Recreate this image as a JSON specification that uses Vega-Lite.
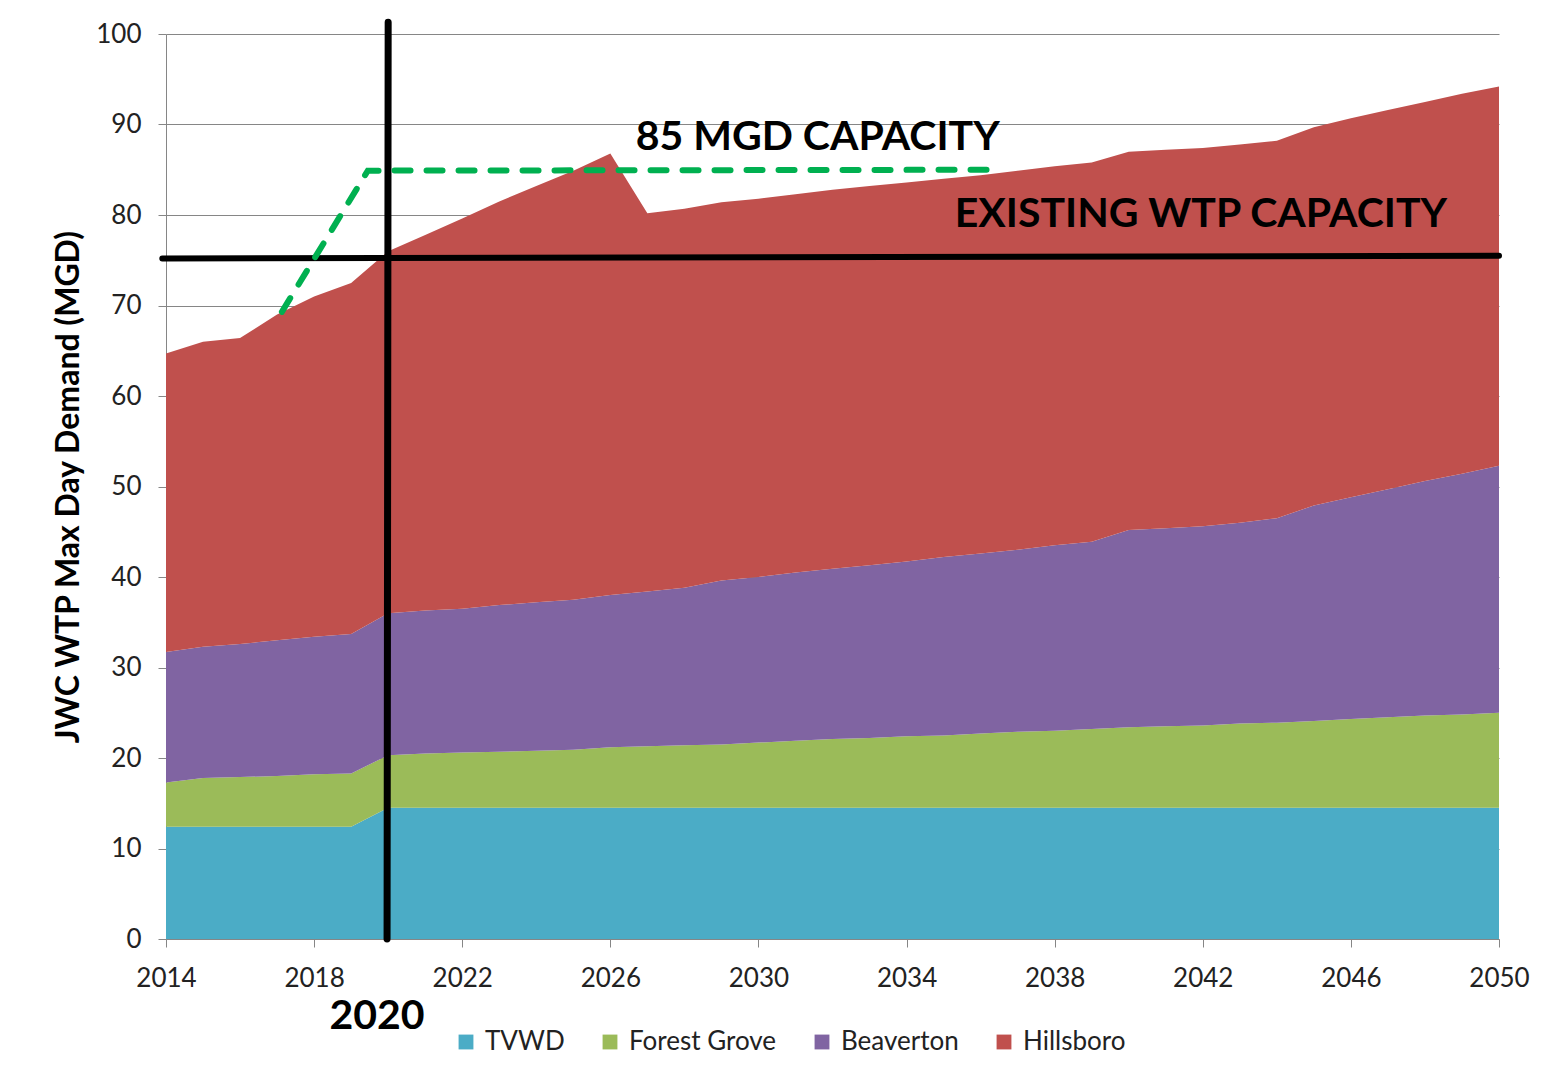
{
  "$schema": "https://vega.github.io/schema/vega-lite/v6.json",
  "width": 1333,
  "height": 905,
  "autosize": "none",
  "padding": {"left": 166, "top": 34, "right": 64, "bottom": 150},
  "background": "white",
  "config": {"view": {"stroke": null}, "font": "Lato"},
  "datasets": {
    "demand": [
      {"year":2014,"series":"TVWD","mgd":12.4,"rank":1},{"year":2015,"series":"TVWD","mgd":12.4,"rank":1},{"year":2016,"series":"TVWD","mgd":12.4,"rank":1},{"year":2017,"series":"TVWD","mgd":12.4,"rank":1},{"year":2018,"series":"TVWD","mgd":12.4,"rank":1},{"year":2019,"series":"TVWD","mgd":12.4,"rank":1},{"year":2020,"series":"TVWD","mgd":14.5,"rank":1},{"year":2021,"series":"TVWD","mgd":14.5,"rank":1},{"year":2022,"series":"TVWD","mgd":14.5,"rank":1},{"year":2023,"series":"TVWD","mgd":14.5,"rank":1},{"year":2024,"series":"TVWD","mgd":14.5,"rank":1},{"year":2025,"series":"TVWD","mgd":14.5,"rank":1},{"year":2026,"series":"TVWD","mgd":14.5,"rank":1},{"year":2027,"series":"TVWD","mgd":14.5,"rank":1},{"year":2028,"series":"TVWD","mgd":14.5,"rank":1},{"year":2029,"series":"TVWD","mgd":14.5,"rank":1},{"year":2030,"series":"TVWD","mgd":14.5,"rank":1},{"year":2031,"series":"TVWD","mgd":14.5,"rank":1},{"year":2032,"series":"TVWD","mgd":14.5,"rank":1},{"year":2033,"series":"TVWD","mgd":14.5,"rank":1},{"year":2034,"series":"TVWD","mgd":14.5,"rank":1},{"year":2035,"series":"TVWD","mgd":14.5,"rank":1},{"year":2036,"series":"TVWD","mgd":14.5,"rank":1},{"year":2037,"series":"TVWD","mgd":14.5,"rank":1},{"year":2038,"series":"TVWD","mgd":14.5,"rank":1},{"year":2039,"series":"TVWD","mgd":14.5,"rank":1},{"year":2040,"series":"TVWD","mgd":14.5,"rank":1},{"year":2041,"series":"TVWD","mgd":14.5,"rank":1},{"year":2042,"series":"TVWD","mgd":14.5,"rank":1},{"year":2043,"series":"TVWD","mgd":14.5,"rank":1},{"year":2044,"series":"TVWD","mgd":14.5,"rank":1},{"year":2045,"series":"TVWD","mgd":14.5,"rank":1},{"year":2046,"series":"TVWD","mgd":14.5,"rank":1},{"year":2047,"series":"TVWD","mgd":14.5,"rank":1},{"year":2048,"series":"TVWD","mgd":14.5,"rank":1},{"year":2049,"series":"TVWD","mgd":14.5,"rank":1},{"year":2050,"series":"TVWD","mgd":14.5,"rank":1},
      {"year":2014,"series":"Forest Grove","mgd":4.9,"rank":2},{"year":2015,"series":"Forest Grove","mgd":5.4,"rank":2},{"year":2016,"series":"Forest Grove","mgd":5.5,"rank":2},{"year":2017,"series":"Forest Grove","mgd":5.6,"rank":2},{"year":2018,"series":"Forest Grove","mgd":5.8,"rank":2},{"year":2019,"series":"Forest Grove","mgd":5.9,"rank":2},{"year":2020,"series":"Forest Grove","mgd":5.8,"rank":2},{"year":2021,"series":"Forest Grove","mgd":6.0,"rank":2},{"year":2022,"series":"Forest Grove","mgd":6.1,"rank":2},{"year":2023,"series":"Forest Grove","mgd":6.2,"rank":2},{"year":2024,"series":"Forest Grove","mgd":6.3,"rank":2},{"year":2025,"series":"Forest Grove","mgd":6.4,"rank":2},{"year":2026,"series":"Forest Grove","mgd":6.7,"rank":2},{"year":2027,"series":"Forest Grove","mgd":6.8,"rank":2},{"year":2028,"series":"Forest Grove","mgd":6.9,"rank":2},{"year":2029,"series":"Forest Grove","mgd":7.0,"rank":2},{"year":2030,"series":"Forest Grove","mgd":7.2,"rank":2},{"year":2031,"series":"Forest Grove","mgd":7.4,"rank":2},{"year":2032,"series":"Forest Grove","mgd":7.6,"rank":2},{"year":2033,"series":"Forest Grove","mgd":7.7,"rank":2},{"year":2034,"series":"Forest Grove","mgd":7.9,"rank":2},{"year":2035,"series":"Forest Grove","mgd":8.0,"rank":2},{"year":2036,"series":"Forest Grove","mgd":8.2,"rank":2},{"year":2037,"series":"Forest Grove","mgd":8.4,"rank":2},{"year":2038,"series":"Forest Grove","mgd":8.5,"rank":2},{"year":2039,"series":"Forest Grove","mgd":8.7,"rank":2},{"year":2040,"series":"Forest Grove","mgd":8.9,"rank":2},{"year":2041,"series":"Forest Grove","mgd":9.0,"rank":2},{"year":2042,"series":"Forest Grove","mgd":9.1,"rank":2},{"year":2043,"series":"Forest Grove","mgd":9.3,"rank":2},{"year":2044,"series":"Forest Grove","mgd":9.4,"rank":2},{"year":2045,"series":"Forest Grove","mgd":9.6,"rank":2},{"year":2046,"series":"Forest Grove","mgd":9.8,"rank":2},{"year":2047,"series":"Forest Grove","mgd":10.0,"rank":2},{"year":2048,"series":"Forest Grove","mgd":10.2,"rank":2},{"year":2049,"series":"Forest Grove","mgd":10.3,"rank":2},{"year":2050,"series":"Forest Grove","mgd":10.5,"rank":2},
      {"year":2014,"series":"Beaverton","mgd":14.4,"rank":3},{"year":2015,"series":"Beaverton","mgd":14.5,"rank":3},{"year":2016,"series":"Beaverton","mgd":14.7,"rank":3},{"year":2017,"series":"Beaverton","mgd":15.0,"rank":3},{"year":2018,"series":"Beaverton","mgd":15.2,"rank":3},{"year":2019,"series":"Beaverton","mgd":15.4,"rank":3},{"year":2020,"series":"Beaverton","mgd":15.7,"rank":3},{"year":2021,"series":"Beaverton","mgd":15.8,"rank":3},{"year":2022,"series":"Beaverton","mgd":15.9,"rank":3},{"year":2023,"series":"Beaverton","mgd":16.2,"rank":3},{"year":2024,"series":"Beaverton","mgd":16.4,"rank":3},{"year":2025,"series":"Beaverton","mgd":16.6,"rank":3},{"year":2026,"series":"Beaverton","mgd":16.8,"rank":3},{"year":2027,"series":"Beaverton","mgd":17.1,"rank":3},{"year":2028,"series":"Beaverton","mgd":17.4,"rank":3},{"year":2029,"series":"Beaverton","mgd":18.1,"rank":3},{"year":2030,"series":"Beaverton","mgd":18.3,"rank":3},{"year":2031,"series":"Beaverton","mgd":18.6,"rank":3},{"year":2032,"series":"Beaverton","mgd":18.8,"rank":3},{"year":2033,"series":"Beaverton","mgd":19.1,"rank":3},{"year":2034,"series":"Beaverton","mgd":19.3,"rank":3},{"year":2035,"series":"Beaverton","mgd":19.7,"rank":3},{"year":2036,"series":"Beaverton","mgd":19.9,"rank":3},{"year":2037,"series":"Beaverton","mgd":20.1,"rank":3},{"year":2038,"series":"Beaverton","mgd":20.5,"rank":3},{"year":2039,"series":"Beaverton","mgd":20.7,"rank":3},{"year":2040,"series":"Beaverton","mgd":21.8,"rank":3},{"year":2041,"series":"Beaverton","mgd":21.9,"rank":3},{"year":2042,"series":"Beaverton","mgd":22.0,"rank":3},{"year":2043,"series":"Beaverton","mgd":22.2,"rank":3},{"year":2044,"series":"Beaverton","mgd":22.6,"rank":3},{"year":2045,"series":"Beaverton","mgd":23.8,"rank":3},{"year":2046,"series":"Beaverton","mgd":24.5,"rank":3},{"year":2047,"series":"Beaverton","mgd":25.2,"rank":3},{"year":2048,"series":"Beaverton","mgd":25.9,"rank":3},{"year":2049,"series":"Beaverton","mgd":26.6,"rank":3},{"year":2050,"series":"Beaverton","mgd":27.3,"rank":3},
      {"year":2014,"series":"Hillsboro","mgd":33.0,"rank":4},{"year":2015,"series":"Hillsboro","mgd":33.7,"rank":4},{"year":2016,"series":"Hillsboro","mgd":33.8,"rank":4},{"year":2017,"series":"Hillsboro","mgd":36.0,"rank":4},{"year":2018,"series":"Hillsboro","mgd":37.6,"rank":4},{"year":2019,"series":"Hillsboro","mgd":38.8,"rank":4},{"year":2020,"series":"Hillsboro","mgd":40.0,"rank":4},{"year":2021,"series":"Hillsboro","mgd":41.5,"rank":4},{"year":2022,"series":"Hillsboro","mgd":43.1,"rank":4},{"year":2023,"series":"Hillsboro","mgd":44.6,"rank":4},{"year":2024,"series":"Hillsboro","mgd":46.0,"rank":4},{"year":2025,"series":"Hillsboro","mgd":47.4,"rank":4},{"year":2026,"series":"Hillsboro","mgd":48.8,"rank":4},{"year":2027,"series":"Hillsboro","mgd":41.8,"rank":4},{"year":2028,"series":"Hillsboro","mgd":41.9,"rank":4},{"year":2029,"series":"Hillsboro","mgd":41.8,"rank":4},{"year":2030,"series":"Hillsboro","mgd":41.8,"rank":4},{"year":2031,"series":"Hillsboro","mgd":41.8,"rank":4},{"year":2032,"series":"Hillsboro","mgd":41.9,"rank":4},{"year":2033,"series":"Hillsboro","mgd":41.9,"rank":4},{"year":2034,"series":"Hillsboro","mgd":41.9,"rank":4},{"year":2035,"series":"Hillsboro","mgd":41.8,"rank":4},{"year":2036,"series":"Hillsboro","mgd":41.8,"rank":4},{"year":2037,"series":"Hillsboro","mgd":41.9,"rank":4},{"year":2038,"series":"Hillsboro","mgd":41.9,"rank":4},{"year":2039,"series":"Hillsboro","mgd":41.9,"rank":4},{"year":2040,"series":"Hillsboro","mgd":41.8,"rank":4},{"year":2041,"series":"Hillsboro","mgd":41.8,"rank":4},{"year":2042,"series":"Hillsboro","mgd":41.8,"rank":4},{"year":2043,"series":"Hillsboro","mgd":41.8,"rank":4},{"year":2044,"series":"Hillsboro","mgd":41.7,"rank":4},{"year":2045,"series":"Hillsboro","mgd":41.8,"rank":4},{"year":2046,"series":"Hillsboro","mgd":41.9,"rank":4},{"year":2047,"series":"Hillsboro","mgd":41.9,"rank":4},{"year":2048,"series":"Hillsboro","mgd":41.9,"rank":4},{"year":2049,"series":"Hillsboro","mgd":42.0,"rank":4},{"year":2050,"series":"Hillsboro","mgd":41.9,"rank":4}
    ],
    "cap85": [{"year":2017.13,"mgd":69.3},{"year":2019.45,"mgd":84.9},{"year":2036.33,"mgd":85.0}],
    "existing": [{"year":2013.9,"mgd":75.2},{"year":2050,"mgd":75.5}],
    "line2020": [{"year":2019.97,"mgd":0},{"year":2020.0,"mgd":101.3}],
    "notes": [
      {"year":2031.6,"mgd":88.5,"text":"85 MGD CAPACITY"},
      {"year":2041.95,"mgd":80.0,"text":"EXISTING WTP CAPACITY"},
      {"year":2019.7,"mgd":-8.6,"text":"2020"}
    ]
  },
  "layer": [
    {
      "data": {"name": "demand"},
      "mark": {"type": "area", "opacity": 1, "interpolate": "linear"},
      "encoding": {
        "x": {
          "field": "year", "type": "quantitative",
          "scale": {"domain": [2014, 2050], "nice": false, "zero": false},
          "axis": {
            "values": [2014,2018,2022,2026,2030,2034,2038,2042,2046,2050],
            "format": "d", "title": null, "grid": false, "labelFlush": false, "labelOverlap": false,
            "domainColor": "#868686", "tickColor": "#868686", "tickSize": 8,
            "labelFontSize": 26, "labelColor": "#222222", "labelPadding": 18, "labelFont": "Lato"
          }
        },
        "y": {
          "field": "mgd", "type": "quantitative", "stack": "zero",
          "scale": {"domain": [0, 100], "nice": false},
          "axis": {
            "values": [0,10,20,30,40,50,60,70,80,90,100],
            "title": "JWC WTP Max Day Demand (MGD)",
            "titleFontSize": 32, "titleFontWeight": "bold", "titleColor": "black", "titleFont": "Lato",
            "titlePadding": 10,
            "grid": true, "gridColor": "#868686", "gridWidth": 1,
            "domainColor": "#868686", "tickColor": "#868686", "tickSize": 8,
            "labelFontSize": 26, "labelColor": "#222222", "labelPadding": 17, "labelFont": "Lato"
          }
        },
        "color": {
          "field": "series", "type": "nominal",
          "scale": {"domain": ["TVWD","Forest Grove","Beaverton","Hillsboro"], "range": ["#4BACC6","#9BBB59","#8064A2","#C0504D"]},
          "legend": {
            "orient": "none", "legendX": 287, "legendY": 995, "direction": "horizontal",
            "title": null, "symbolType": "square", "symbolSize": 220, "symbolStrokeWidth": 0,
            "symbolOpacity": 1,
            "labelFontSize": 26, "labelColor": "#222222", "labelFont": "Lato", "labelOffset": 6,
            "columnPadding": 32
          }
        },
        "order": {"field": "rank", "type": "quantitative", "sort": "ascending"}
      }
    },
    {
      "data": {"name": "existing"},
      "mark": {"type": "line", "color": "black", "strokeWidth": 6, "strokeCap": "round"},
      "encoding": {
        "x": {"field": "year", "type": "quantitative"},
        "y": {"field": "mgd", "type": "quantitative"}
      }
    },
    {
      "data": {"name": "line2020"},
      "mark": {"type": "line", "color": "black", "strokeWidth": 7, "strokeCap": "round"},
      "encoding": {
        "x": {"field": "year", "type": "quantitative"},
        "y": {"field": "mgd", "type": "quantitative"}
      }
    },
    {
      "data": {"name": "cap85"},
      "mark": {"type": "line", "color": "#00B050", "strokeWidth": 6, "strokeCap": "round", "strokeDash": [16, 16]},
      "encoding": {
        "x": {"field": "year", "type": "quantitative"},
        "y": {"field": "mgd", "type": "quantitative"}
      }
    },
    {
      "data": {"name": "notes"},
      "mark": {"type": "text", "font": "Lato", "fontWeight": "bold", "fontSize": 41, "color": "black", "align": "center", "baseline": "middle"},
      "encoding": {
        "x": {"field": "year", "type": "quantitative"},
        "y": {"field": "mgd", "type": "quantitative"},
        "text": {"field": "text"}
      }
    }
  ]
}
